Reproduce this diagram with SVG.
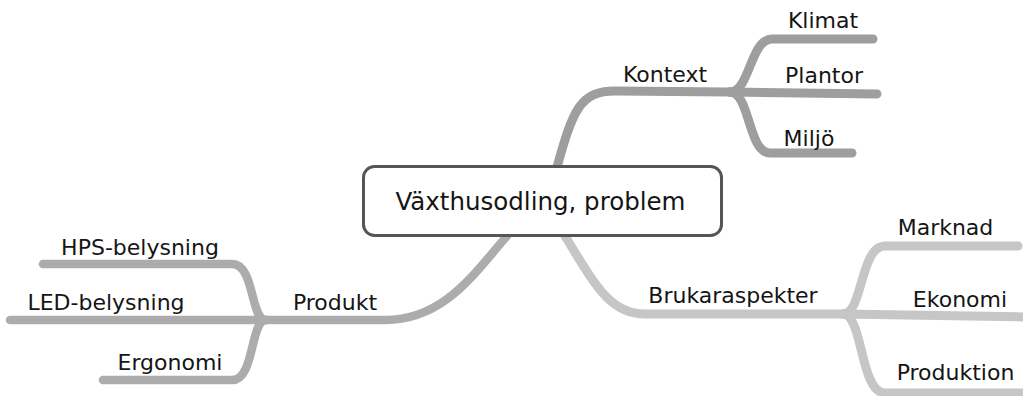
<svg xmlns="http://www.w3.org/2000/svg" width="1023" height="396" viewBox="0 0 1023 396">
  <style>
    .branch { fill: none; stroke-linecap: round; stroke-linejoin: round; }
    .kontext { stroke: #9e9e9e; stroke-width: 9; }
    .produkt { stroke: #acacac; stroke-width: 8.5; }
    .bruk { stroke: #c6c6c6; stroke-width: 9; }
    .label { font-family: "DejaVu Sans", "Noto Sans", sans-serif; font-size: 22px; fill: #151515; text-anchor: middle; }
    .root-box { fill: #ffffff; stroke: #555555; stroke-width: 3; }
    .root-text { font-family: "DejaVu Sans", "Noto Sans", sans-serif; font-size: 24.5px; fill: #151515; text-anchor: middle; }
  </style>

  <!-- connectors -->
  <g id="connectors">
    <!-- Kontext and its sub-branches -->
    <path class="branch kontext" d="M552,190 L557,167 C573,110 580,91 615,91 L730,92"/>
    <path class="branch kontext" d="M730,92 C750,92 750,39 772,39 L873,39"/>
    <path class="branch kontext" d="M730,92 L877,94"/>
    <path class="branch kontext" d="M730,92 C750,92 748,153 770,153 L852,153"/>

    <!-- Produkt and its sub-branches -->
    <path class="branch produkt" d="M512,215 L507,236 C475,272 445,320 385,320 L264,320"/>
    <path class="branch produkt" d="M266,320 C250,320 255,264 232,264 L43,264"/>
    <path class="branch produkt" d="M266,320 L10,320"/>
    <path class="branch produkt" d="M266,320 C250,320 255,380 232,380 L103,380"/>

    <!-- Brukaraspekter and its sub-branches -->
    <path class="branch bruk" d="M560,215 L565,236 C595,285 610,314 645,314 L843,314"/>
    <path class="branch bruk" d="M843,314 C863,314 860,246 885,246 L1018,246"/>
    <path class="branch bruk" d="M843,314 L1030,317"/>
    <path class="branch bruk" d="M843,314 C863,314 860,393 885,393 L1030,393"/>
  </g>

  <!-- central topic -->
  <g id="root">
    <rect class="root-box" x="363.5" y="166.5" width="358" height="69" rx="11" ry="11"/>
    <text class="root-text" x="540.5" y="210">Växthusodling, problem</text>
  </g>

  <g id="kontext"><text class="label" x="665" y="82">Kontext</text></g>
  <g id="klimat"><text class="label" x="823" y="28">Klimat</text></g>
  <g id="plantor"><text class="label" x="824" y="83">Plantor</text></g>
  <g id="miljo"><text class="label" x="809" y="146">Miljö</text></g>

  <g id="produkt"><text class="label" x="335" y="310">Produkt</text></g>
  <g id="hps"><text class="label" x="140" y="255">HPS-belysning</text></g>
  <g id="led"><text class="label" x="106" y="310">LED-belysning</text></g>
  <g id="ergonomi"><text class="label" x="170" y="370">Ergonomi</text></g>

  <g id="brukaraspekter"><text class="label" x="733" y="303">Brukaraspekter</text></g>
  <g id="marknad"><text class="label" x="945.5" y="235">Marknad</text></g>
  <g id="ekonomi"><text class="label" x="960" y="307">Ekonomi</text></g>
  <g id="produktion"><text class="label" x="955.5" y="380">Produktion</text></g>
</svg>
